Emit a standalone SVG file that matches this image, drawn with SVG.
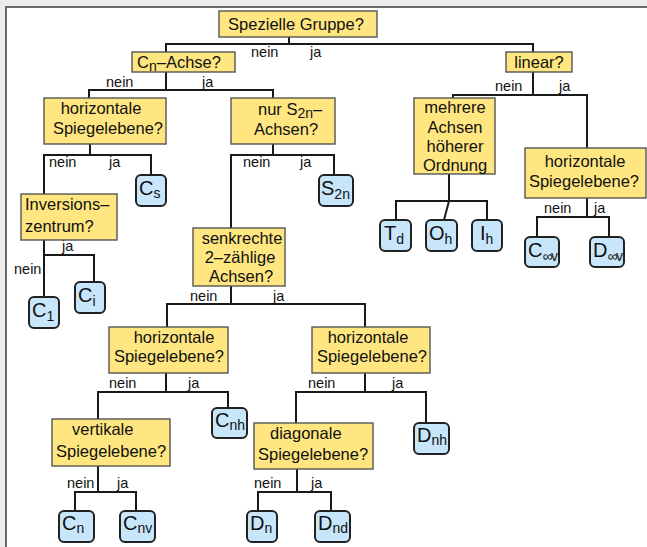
<svg xmlns="http://www.w3.org/2000/svg" width="647" height="547" viewBox="0 0 647 547">
<style>
text{font-family:"Liberation Sans",Arial,sans-serif;fill:#111}
.q rect{fill:#ffe680;stroke:#555;stroke-width:1.4}
.q text{font-size:16.5px}
.leaf rect{fill:#c8e6fa;stroke:#222;stroke-width:2}
.leaf text{font-size:20px}
.sub{font-size:14px}
.lbl{font-size:14.5px}
#connectors path{fill:none;stroke:#1a1a1a;stroke-width:2}
</style>
<rect x="0" y="0" width="647" height="547" fill="#ececec"/>
<rect x="5" y="6" width="642" height="541" fill="#fff"/>
<path d="M6,547 V7 H647" fill="none" stroke="#6a6a6a" stroke-width="2"/>

<g id="connectors">
<path d="M289,37 V44 M166,52 V44 H533 V52"/>
<path d="M166,72 V90 M89,98 V90 H273 V98"/>
<path d="M533,72 V95 M453,98 V95 H587 V148"/>
<path d="M90,144 V155 M44,194 V155 H151 V175"/>
<path d="M273,144 V155 M231,228 V155 H334 V175"/>
<path d="M44,240 V297 M44,255 H94 V282"/>
<path d="M449,174 V201 M396,220 V201 H487 V220 M449,201 L444,220"/>
<path d="M587,198 V217 M537,237 V217 H609 V237"/>
<path d="M231,286 V304 M167,327 V304 H365 V327"/>
<path d="M166,373 V392 M98,419 V392 H228 V408"/>
<path d="M365,373 V392 M296,423 V392 H426 V423"/>
<path d="M98,466 V492 M75,511 V492 H136 V511"/>
<path d="M297,469 V492 M258,511 V492 H331 V511"/>
</g>

<g id="labels" class="lbl">
<text class="lbl" x="251" y="57">nein</text><text class="lbl" x="310" y="57">ja</text>
<text class="lbl" x="106" y="87">nein</text><text class="lbl" x="202" y="87">ja</text>
<text class="lbl" x="495" y="91">nein</text><text class="lbl" x="559" y="91">ja</text>
<text class="lbl" x="49" y="167">nein</text><text class="lbl" x="109" y="167">ja</text>
<text class="lbl" x="243" y="167">nein</text><text class="lbl" x="300" y="167">ja</text>
<text class="lbl" x="62" y="251">ja</text><text class="lbl" x="14" y="274">nein</text>
<text class="lbl" x="544" y="213">nein</text><text class="lbl" x="594" y="213">ja</text>
<text class="lbl" x="190" y="301">nein</text><text class="lbl" x="273" y="301">ja</text>
<text class="lbl" x="109" y="388">nein</text><text class="lbl" x="188" y="388">ja</text>
<text class="lbl" x="308" y="388">nein</text><text class="lbl" x="392" y="388">ja</text>
<text class="lbl" x="67" y="488">nein</text><text class="lbl" x="117" y="488">ja</text>
<text class="lbl" x="254" y="488">nein</text><text class="lbl" x="311" y="488">ja</text>
</g>

<g id="n-special" class="q"><rect x="219" y="11" width="158" height="26"/><text x="296" y="30" text-anchor="middle">Spezielle Gruppe?</text></g>
<g id="n-cn" class="q"><rect x="132" y="52" width="103" height="20"/><text x="137" y="68">C<tspan class="sub" dy="3">n</tspan><tspan dy="-3">–Achse?</tspan></text></g>
<g id="n-linear" class="q"><rect x="506" y="52" width="66" height="20"/><text x="539" y="68" text-anchor="middle">linear?</text></g>
<g id="n-h1" class="q"><rect x="44" y="98" width="122" height="46"/><text x="101" y="114" text-anchor="middle">horizontale</text><text x="108" y="134" text-anchor="middle">Spiegelebene?</text></g>
<g id="n-s2n" class="q"><rect x="231" y="98" width="104" height="46"/><text x="258" y="115">nur S<tspan class="sub" dy="3">2n</tspan><tspan dy="-3">–</tspan></text><text x="286" y="135" text-anchor="middle">Achsen?</text></g>
<g id="n-mehr" class="q"><rect x="414" y="98" width="81" height="76"/><text x="455" y="113" text-anchor="middle">mehrere</text><text x="455" y="133" text-anchor="middle">Achsen</text><text x="455" y="152" text-anchor="middle">höherer</text><text x="455" y="171" text-anchor="middle">Ordnung</text></g>
<g id="n-h1r" class="q"><rect x="525" y="148" width="121" height="50"/><text x="585" y="167" text-anchor="middle">horizontale</text><text x="584" y="187" text-anchor="middle">Spiegelebene?</text></g>
<g id="n-inv" class="q"><rect x="21" y="194" width="96" height="46"/><text x="25" y="210">Inversions–</text><text x="25" y="232">zentrum?</text></g>
<g id="n-senk" class="q"><rect x="193" y="228" width="92" height="58"/><text x="242" y="244" text-anchor="middle">senkrechte</text><text x="240" y="263" text-anchor="middle">2–zählige</text><text x="241" y="282" text-anchor="middle">Achsen?</text></g>
<g id="n-h2l" class="q"><rect x="109" y="327" width="119" height="46"/><text x="174" y="343" text-anchor="middle">horizontale</text><text x="169" y="362" text-anchor="middle">Spiegelebene?</text></g>
<g id="n-h2r" class="q"><rect x="312" y="327" width="118" height="46"/><text x="368" y="343" text-anchor="middle">horizontale</text><text x="372" y="362" text-anchor="middle">Spiegelebene?</text></g>
<g id="n-vert" class="q"><rect x="52" y="419" width="118" height="47"/><text x="72" y="435">vertikale</text><text x="56" y="457">Spiegelebene?</text></g>
<g id="n-diag" class="q"><rect x="254" y="423" width="119" height="46"/><text x="270" y="439">diagonale</text><text x="258" y="460">Spiegelebene?</text></g>

<g id="l-cs" class="leaf"><rect x="136" y="175" width="30" height="31" rx="5"/><text x="139" y="195">C<tspan class="sub" dy="3">s</tspan></text></g>
<g id="l-s2n" class="leaf"><rect x="319" y="175" width="34" height="31" rx="5"/><text x="321" y="195">S<tspan class="sub" dy="4">2n</tspan></text></g>
<g id="l-c1" class="leaf"><rect x="29" y="297" width="30" height="31" rx="5"/><text x="32" y="317">C<tspan class="sub" dy="4">1</tspan></text></g>
<g id="l-ci" class="leaf"><rect x="75" y="282" width="30" height="31" rx="5"/><text x="78" y="302">C<tspan class="sub" dy="4">i</tspan></text></g>
<g id="l-td" class="leaf"><rect x="380" y="220" width="31" height="31" rx="5"/><text x="384" y="240">T<tspan class="sub" dy="4">d</tspan></text></g>
<g id="l-oh" class="leaf"><rect x="426" y="220" width="31" height="31" rx="5"/><text x="429" y="240">O<tspan class="sub" dy="4">h</tspan></text></g>
<g id="l-ih" class="leaf"><rect x="472" y="220" width="30" height="31" rx="5"/><text x="480" y="240">I<tspan class="sub" dy="4">h</tspan></text></g>
<g id="l-cinfv" class="leaf"><rect x="525" y="237" width="34" height="30" rx="5"/><text x="528" y="257">C<tspan class="sub" dy="4" letter-spacing="-1.5" font-size="12">∞v</tspan></text></g>
<g id="l-dinfv" class="leaf"><rect x="590" y="237" width="34" height="30" rx="5"/><text x="593" y="257">D<tspan class="sub" dy="4" letter-spacing="-1.5" font-size="12">∞v</tspan></text></g>
<g id="l-cnh" class="leaf"><rect x="212" y="408" width="35" height="30" rx="5"/><text x="215" y="427">C<tspan class="sub" dy="3">nh</tspan></text></g>
<g id="l-dnh" class="leaf"><rect x="414" y="423" width="35" height="31" rx="5"/><text x="417" y="442">D<tspan class="sub" dy="3">nh</tspan></text></g>
<g id="l-cn" class="leaf"><rect x="59" y="511" width="35" height="31" rx="5"/><text x="62" y="530">C<tspan class="sub" dy="3">n</tspan></text></g>
<g id="l-cnv" class="leaf"><rect x="120" y="511" width="35" height="31" rx="5"/><text x="123" y="530">C<tspan class="sub" dy="3">nv</tspan></text></g>
<g id="l-dn" class="leaf"><rect x="247" y="511" width="30" height="31" rx="5"/><text x="250" y="530">D<tspan class="sub" dy="3">n</tspan></text></g>
<g id="l-dnd" class="leaf"><rect x="315" y="511" width="35" height="31" rx="5"/><text x="318" y="530">D<tspan class="sub" dy="3">nd</tspan></text></g>
</svg>
